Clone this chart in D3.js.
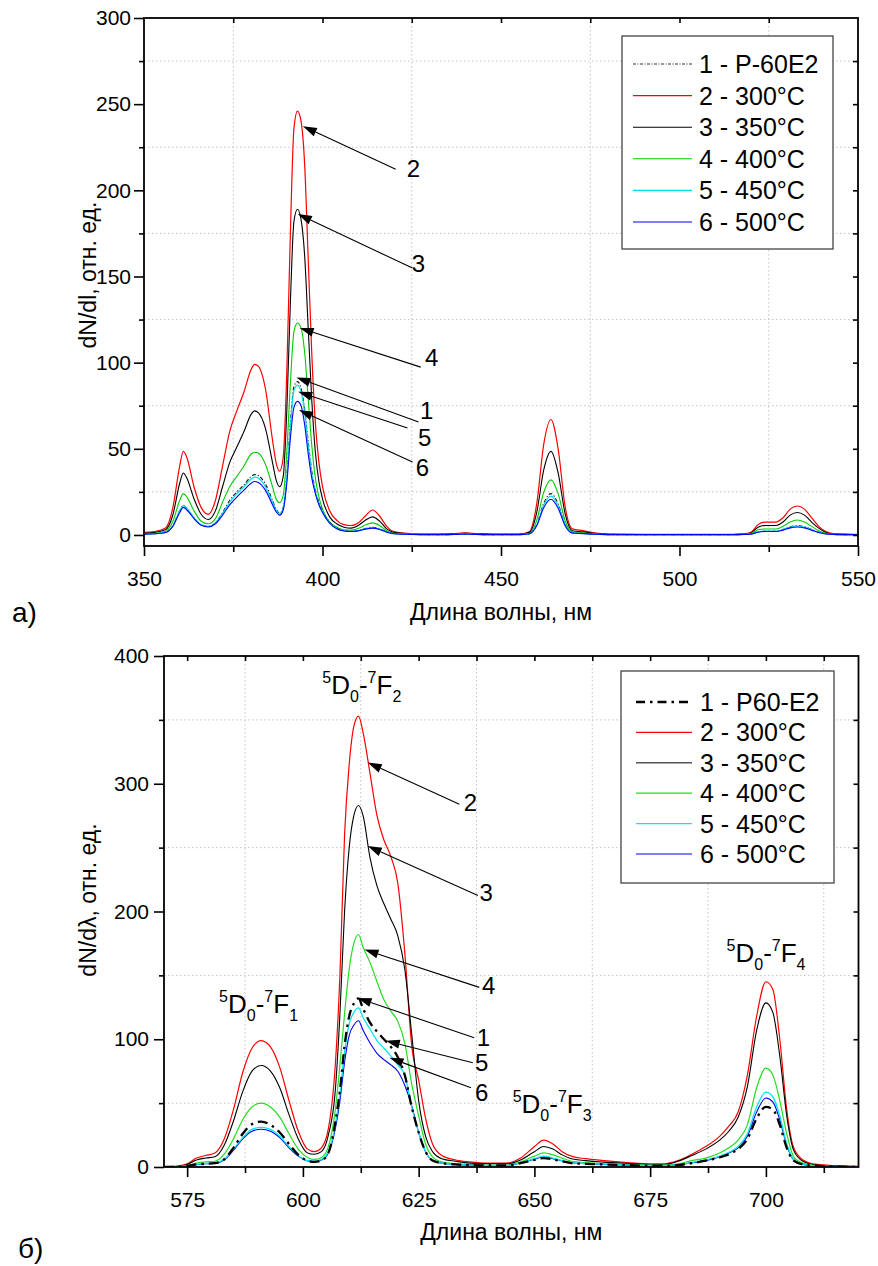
<!DOCTYPE html>
<html><head><meta charset="utf-8">
<script src="https://cdn.jsdelivr.net/npm/d3@7"></script>
<style>body{margin:0;background:#fff;} text{font-family:"Liberation Sans",Arial,sans-serif;}</style>
</head><body>
<svg id="c" width="878" height="1266"></svg>
<script>
// ---------- DATA: panel a) ----------
const wlA = [350,353,356,358,360,361,362,364,366,368,370,372,374,376,378,380,381,382,384,386,387,388,389,390,391,392,393,394,395,396,397,398,399,400,402,404,406,408,410,412,414,416,418,420,425,430,435,438,440,442,445,450,455,458,460,462,464,466,468,470,473,476,480,490,500,510,515,518,520,522,524,527,529,531,533,535,537,539,541,543,546,550];
const a1_P60E2 = [0.5,0.8,1.5,5,14,17,15.5,10,6,5,7,13,20,25,29,34,35,34.5,29.5,20,15,12.6,16,34,65,86,89,85,73,54,37,26,19,14,7.5,4,2.5,2.2,2.6,3.8,4.5,3.6,1.8,0.8,0.3,0.2,0.2,0.4,0.5,0.4,0.2,0.2,0.2,0.8,6,18.5,24,18,6,1.3,0.9,0.5,0.2,0.2,0.2,0.2,0.2,0.3,0.6,1.8,2.2,2.2,3.2,4.8,5.4,4.8,3.2,1.6,0.7,0.3,0.2,0.2];
const a2_300 = [1.5,2,4,15,40,48.5,45,28,16,12,20,40,60,72,83,96,99,98,85,55,42,37,45,95,175,236,246,240,215,160,105,65,42,28,14,8.5,6,5.5,7,11,14.5,11,5,2,0.8,0.5,0.6,1,1.3,1,0.6,0.5,0.5,2,18,53,67,50,16,3.5,2.5,1.2,0.5,0.4,0.4,0.4,0.4,0.6,1.5,6,7.5,7.5,10,15,16.8,15,10,5,2,0.8,0.5,0.4];
const a3_350 = [1,1.5,3,11,30,36,33,21,12,9,14,28,42,51,60,70,72,71,62,42,32,28,34,72,135,182,189,183,162,120,78,48,31,21,10.5,6.5,4.5,4,5.5,8.5,10.5,8,3.5,1.5,0.6,0.4,0.4,0.7,1,0.7,0.5,0.4,0.4,1.5,13,38,48.5,36,12,2.5,1.8,0.9,0.4,0.3,0.3,0.3,0.3,0.5,1.2,4.5,5.5,5.5,7.5,11.5,13,11.5,7.5,4,1.5,0.6,0.4,0.3];
const a4_400 = [0.8,1,2,7.5,20,24,22,14,8,6.5,9.5,19,28,34,40,47,48,47.5,41,28,21,18.7,23,48,88,118,123,120,106,79,52,33,22,15,7.5,4.5,3,2.8,3.8,5.8,7,5.5,2.5,1,0.5,0.3,0.3,0.5,0.7,0.5,0.3,0.3,0.3,1,8.5,25,32,24,8,1.8,1.2,0.6,0.3,0.2,0.2,0.2,0.2,0.3,0.8,3,3.5,3.5,5,7.5,8.7,7.5,5,2.5,1,0.4,0.2,0.2];
const a5_450 = [0.5,0.8,1.5,5,14,17,15.5,10,6,5,7,12.5,19,24,28,32.5,33.6,33,28,19,14.5,12,15.5,33,63,84,87,83,71,52,35,25,18,13.5,7,3.8,2.4,2.1,2.5,3.6,4.2,3.4,1.7,0.8,0.3,0.2,0.2,0.4,0.5,0.4,0.2,0.2,0.2,0.8,5.8,17.5,22.5,17,5.7,1.2,0.9,0.5,0.2,0.2,0.2,0.2,0.2,0.3,0.6,1.8,2.2,2.2,3.1,4.6,5.2,4.6,3.1,1.5,0.7,0.3,0.2,0.2];
const a6_500 = [0.5,0.7,1.4,4.8,13,16,14.5,9.5,5.6,4.6,6.5,11.5,17.5,22,26,30,31,30.5,26,17.5,13.5,11.5,14.5,30,56,74,77.5,75,64,47,33,24,17.5,13,6.8,3.6,2.3,2,2.4,3.4,4,3.2,1.6,0.7,0.3,0.2,0.2,0.35,0.45,0.35,0.2,0.2,0.2,0.7,5.3,16,20.7,15.5,5.2,1.1,0.8,0.4,0.2,0.2,0.2,0.2,0.2,0.3,0.5,1.6,2,2,2.8,4.1,4.6,4.1,2.8,1.4,0.6,0.3,0.2,0.2];
const namesA = ["1 - P-60E2","2 - 300°C","3 - 350°C","4 - 400°C","5 - 450°C","6 - 500°C"];
const xTicksA = [350,400,450,500,550];
const yTicksA = [0,50,100,150,200,250,300];
// arrow annotations a): label, tip [nm, value], tail [nm, value], label centre [nm, value]
const arrowsA = [
  ["2",[394.5,237.2],[420.5,212.3],[425.5,212.9]],
  ["3",[393.1,186.2],[425.2,154.9],[426.9,157.8]],
  ["4",[393.6,120.1],[427.5,97.4],[430.6,103.2]],
  ["1",[392.7,91.4],[426.9,65.5],[429.2,72.5]],
  ["5",[393.2,83.1],[423.8,62.1],[428.6,56.8]],
  ["6",[393.4,72.5],[425.2,42.3],[428.0,39.4]]
];

// ---------- DATA: panel б) ----------
const wlB = [570,573,575,577,579,581,583,585,587,589,591,593,595,597,599,601,602.5,604,605.5,607,608,609,610,611,612,613,614.5,616,617.5,619,620.5,622,623.5,625,626.5,628,630,633,636,640,644,647,650,652,654,656,658,661,665,670,675,678,681,684,687,690,692,694,696,698,700,701.5,703,704.5,706,708,711,715,720];
const b1_P60E2 = [0,0.2,0.8,2,2.5,3,6,15,26,33.5, 35.5,33,27,18,9.5, 5,4,5,11,35, 60,95,118,128,132, 124,113,106,100,94, 86,72,47,27,12, 5,3,2,1.5,1.2, 1.2,3,5.5,7,6, 4.5,3,2.5,2,1.5, 1,1,1.5,3,5, 7.5,10,14,22,38, 47,45,33,15,5, 2,0.8,0.3,0.1];
const b2_300 = [0.3,0.8,2.5,7,9,11,22,45,74,93, 99,94,78,52,28, 14,12,15,30,80, 150,260,315,345,353, 340,308,275,256,243, 222,168,95,68,38, 18,9,5.5,4,3, 3,7,16,21,18, 12,8.5,6.5,5,3.5, 2.5,2.5,5,10,16, 24,32,43,72,118, 145,139,100,45,15, 5.5,2,1,0.5];
const b3_350 = [0.2,0.6,2,5.5,7,8,17,36,59,75, 79.5,75,62,41,22, 11,10,12,25,60, 120,200,250,275,283, 275,242,220,206,194, 181,155,104,52,24, 12,6.5,4.5,3,2.5, 2.5,5.5,12,16,14, 9.5,6.5,5,3.8,2.8, 2,2,4.5,9,14, 21,28,39,63,107, 128.5,121,87,40,13, 4.5,1.5,0.8,0.4];
const b4_400 = [0.1,0.4,1.2,3,4,4.5,10,22,37,47, 50,47,39,26,14, 7.5,6,7.5,16,45, 80,120,155,175,182, 172,160,145,131,122, 114,97,65,40,18, 8,4,2.5,2,1.5, 1.5,4,8.5,11,9.5, 7,4.5,3.5,2.5,2, 1.5,1.5,2.5,5,7, 11,15,21,33,62, 77.4,72,52,26,8, 3,1,0.5,0.2];
const b5_450 = [0,0.2,0.8,2,2.8,3.2,6,14,23,29.5, 31,29.5,24,16,9, 5,4.5,6,12,33, 57,90,112,121,124.5, 117,108,99,93,87, 80,72,47,27,12, 5,3,2,1.5,1.2, 1.2,3.5,6.5,8.5,7, 5,3.5,2.8,2.2,1.6, 1.2,1.2,2,3.5,5.5, 8.5,11.5,16,26,47, 58.6,55,40,18,6, 2,0.8,0.3,0.1];
const b6_500 = [0,0.2,0.7,1.8,2.5,3,5.5,13,22,28, 29.5,28,23,15,8.5, 4.8,4.3,5.5,11,30, 52,82,103,111,114.5, 107,97,89,84,80, 75,64,48,27,12, 5,3,2,1.5,1.2, 1.2,3.2,6,8,6.5, 4.8,3.3,2.6,2,1.5, 1.1,1.1,1.8,3.2,5, 8,11,15,24,43, 54,51,37,17,5.5, 2,0.7,0.3,0.1];
const namesB = ["1 - P60-E2","2 - 300°C","3 - 350°C","4 - 400°C","5 - 450°C","6 - 500°C"];
const xTicksB = [575,600,625,650,675,700];
const yTicksB = [0,100,200,300,400];
const arrowsB = [
  ["2",[614.0,316.6],[633.8,283.9],[636.2,285.5]],
  ["3",[614.0,251.2],[637.8,212.5],[639.6,214.9]],
  ["4",[613.3,170.2],[638.1,140.6],[640.1,142.0]],
  ["1",[611.8,132.3],[637.0,101.2],[639.0,101.2]],
  ["5",[617.9,98.8],[636.7,81.6],[638.6,81.6]],
  ["6",[618.7,85.5],[636.3,62.0],[638.6,58.8]]
];
// transition labels: [J of 7F_J, left nm, baseline value]
const transB = [["2",604.2,370],["1",581.9,120.8],["3",645.3,42.4],["4",691.5,160.8]];

// ---------- DRAWING ----------
const svg = d3.select("#c");
svg.append("rect").attr("width",878).attr("height",1266).attr("fill","#fff");
const FONT = '"Liberation Sans",Arial,sans-serif';

function panel(o){
  const x = d3.scaleLinear().domain(o.xDomain).range([o.left,o.right]);
  const y = d3.scaleLinear().domain(o.yDomain).range([o.bottom,o.top]);
  const g = svg.append("g");
  const grid = {stroke:"#c4c4c4","stroke-width":1,"stroke-dasharray":"1.5,2.5"};
  g.selectAll(null).data(o.gridX).join("line")
    .attr("x1",d=>x(d)).attr("x2",d=>x(d)).attr("y1",o.top).attr("y2",o.bottom).call(s=>{for(const k in grid) s.attr(k,grid[k]);});
  g.selectAll(null).data(o.gridY).join("line")
    .attr("y1",d=>y(d)).attr("y2",d=>y(d)).attr("x1",o.left).attr("x2",o.right).call(s=>{for(const k in grid) s.attr(k,grid[k]);});

  const cid = "clip"+o.id;
  svg.append("clipPath").attr("id",cid).append("rect")
    .attr("x",o.left).attr("y",o.top).attr("width",o.right-o.left).attr("height",o.bottom-o.top);
  const lg = g.append("g").attr("clip-path",`url(#${cid})`);
  const line = d3.line().x((d,i)=>x(o.wl[i])).y(d=>y(d)).curve(d3.curveMonotoneX);
  o.order.forEach(k=>{
    const s = o.series[k];
    lg.append("path").attr("d",line(s.values)).attr("fill","none")
      .attr("stroke",s.color).attr("stroke-width",s.width)
      .attr("stroke-dasharray",s.dash||null).attr("stroke-linejoin","round");
  });

  // axes
  const styleAxis = sel=>{
    sel.select(".domain").remove();
    sel.selectAll(".tick line").attr("stroke","#000").attr("stroke-width",1.6);
    sel.selectAll(".tick text").attr("font-family",FONT).attr("font-size",o.tickFont).attr("fill","#000");
  };
  g.append("g").attr("transform",`translate(0,${o.bottom})`)
    .call(d3.axisBottom(x).tickValues(o.xTicks).tickSize(10).tickPadding(o.xPad).tickFormat(d3.format("d"))).call(styleAxis);
  g.append("g").attr("transform",`translate(0,${o.bottom})`)
    .call(d3.axisBottom(x).tickValues(o.xMinor).tickSize(6).tickFormat("")).call(styleAxis);
  g.append("g").attr("transform",`translate(${o.left},0)`)
    .call(d3.axisLeft(y).tickValues(o.yTicks).tickSize(10).tickPadding(o.yPad).tickFormat(d3.format("d"))).call(styleAxis);
  g.append("g").attr("transform",`translate(${o.left},0)`)
    .call(d3.axisLeft(y).tickValues(o.yMinor).tickSize(5).tickFormat("")).call(styleAxis);
  g.append("g").attr("transform",`translate(0,${o.top})`)
    .call(d3.axisTop(x).tickValues(o.topTicks).tickSize(-5).tickFormat("")).call(styleAxis);
  g.append("g").attr("transform",`translate(${o.right},0)`)
    .call(d3.axisRight(y).tickValues(o.rightTicks).tickSize(-5).tickFormat("")).call(styleAxis);
  g.append("rect").attr("x",o.left).attr("y",o.top).attr("width",o.right-o.left).attr("height",o.bottom-o.top)
    .attr("fill","none").attr("stroke","#000").attr("stroke-width",1.8);

  // titles
  g.append("text").attr("x",(o.left+o.right)/2).attr("y",o.xTitleY).attr("text-anchor","middle")
    .attr("font-size",o.titleFont).attr("font-family",FONT).text("Длина волны, нм");
  g.append("text").attr("transform",`translate(${o.yTitleX},${o.yTitleC}) rotate(-90)`).attr("text-anchor","middle")
    .attr("font-size",o.titleFont).attr("font-family",FONT).text(o.yTitle);
  g.append("text").attr("x",o.tagX).attr("y",o.tagY).attr("font-size",28)
    .attr("font-family",'"Liberation Serif","Times New Roman",serif').text(o.tag);

  // arrows
  o.arrows.forEach(a=>{
    const tx=x(a[1][0]), ty=y(a[1][1]), sx=x(a[2][0]), sy=y(a[2][1]);
    const dx=sx-tx, dy=sy-ty, L=Math.hypot(dx,dy), ux=dx/L, uy=dy/L;
    const hl=14, hw=4.5;
    const bx=tx+ux*hl, by=ty+uy*hl;
    g.append("line").attr("x1",sx).attr("y1",sy).attr("x2",bx).attr("y2",by).attr("stroke","#000").attr("stroke-width",1.1);
    g.append("path").attr("d",`M${tx},${ty}L${bx-uy*hw},${by+ux*hw}L${bx+uy*hw},${by-ux*hw}Z`).attr("fill","#000");
    g.append("text").attr("x",x(a[3][0])).attr("y",y(a[3][1])).attr("dy","0.36em").attr("text-anchor","middle")
      .attr("font-size",24).attr("font-family",FONT).text(a[0]);
  });

  // legend
  const L = o.legend;
  g.append("rect").attr("x",L.x).attr("y",L.y).attr("width",L.w).attr("height",L.h)
    .attr("fill","#fff").attr("stroke","#444").attr("stroke-width",1.3);
  o.names.forEach((nm,i)=>{
    const s=o.series[i], cy=L.y0+i*L.dy;
    g.append("line").attr("x1",L.lx1).attr("x2",L.lx2).attr("y1",cy).attr("y2",cy)
      .attr("stroke",s.lcolor||s.color).attr("stroke-width",s.lwidth||s.width).attr("stroke-dasharray",s.ldash||s.dash||null);
    g.append("text").attr("x",L.tx).attr("y",cy).attr("dy","0.36em").attr("font-size",L.font)
      .attr("font-family",FONT).text(nm);
  });
  return {x,y,g};
}

const A = panel({
  id:"A", left:144, right:858, top:18, bottom:546,
  xDomain:[350,550], yDomain:[-6.4,300], wl:wlA,
  series:[
    {values:a1_P60E2,color:"#111",width:1.1,dash:"4,2,1.2,2",lcolor:"#333",ldash:"3,1.5,1,1.5"},
    {values:a2_300,color:"#ff0000",width:1.2},
    {values:a3_350,color:"#000",width:1.1},
    {values:a4_400,color:"#00cc00",width:1.1},
    {values:a5_450,color:"#00e0e8",width:1.2},
    {values:a6_500,color:"#0000ff",width:1.1}
  ],
  order:[1,2,3,0,4,5],
  names:namesA,
  xTicks:xTicksA, xMinor:[375,425,475,525], yTicks:yTicksA, yMinor:[25,75,125,175,225,275],
  topTicks:[375,400,425,450,475,500,525], rightTicks:[0,25,50,75,100,125,150,175,200,225,250,275],
  gridX:[375,425,475,525], gridY:[25,75,125,175,225,275],
  tickFont:21, titleFont:23, xPad:15, yPad:3,
  xTitleY:620, yTitle:"dN/dl, отн. ед.", yTitleX:96, yTitleC:275,
  tag:"а)", tagX:12, tagY:622,
  arrows:arrowsA,
  legend:{x:622,y:36,w:211,h:213,y0:64,dy:31.6,lx1:633,lx2:692,tx:699,font:25}
});

const B = panel({
  id:"B", left:164, right:858.5, top:656, bottom:1167,
  xDomain:[570,720], yDomain:[0,400], wl:wlB,
  series:[
    {values:b1_P60E2,color:"#000",width:2.3,dash:"10,5,2.5,5",ldash:"9,5,2.5,5"},
    {values:b2_300,color:"#ff0000",width:1.2},
    {values:b3_350,color:"#000",width:1.1,lcolor:"#555",lwidth:1.6},
    {values:b4_400,color:"#22dd22",width:1.2},
    {values:b5_450,color:"#00e8f0",width:1.3},
    {values:b6_500,color:"#0000ee",width:1.1}
  ],
  order:[1,2,3,5,4,0],
  names:namesB,
  xTicks:xTicksB, xMinor:[587.5,612.5,637.5,662.5,687.5,712.5], yTicks:yTicksB, yMinor:[50,150,250,350],
  topTicks:[575,587.5,600,612.5,625,637.5,650,662.5,675,687.5,700,712.5], rightTicks:[50,100,150,200,250,300,350],
  gridX:[587.5,612.5,637.5,662.5,687.5,712.5], gridY:[50,150,250,350],
  tickFont:21, titleFont:23, xPad:15, yPad:5,
  xTitleY:1240, yTitle:"dN/dλ, отн. ед.", yTitleX:96, yTitleC:900,
  tag:"б)", tagX:18, tagY:1258,
  arrows:arrowsB,
  legend:{x:621,y:671,w:213,h:212,y0:702,dy:30.4,lx1:636,lx2:692,tx:700,font:25}
});

// transition labels
transB.forEach(t=>{
  const tx = B.g.append("text").attr("x",B.x(t[1])).attr("y",B.y(t[2])).attr("font-family",FONT).attr("font-size",26);
  tx.append("tspan").attr("font-size",16).attr("dy",-11).text("5");
  tx.append("tspan").attr("dy",11).text("D");
  tx.append("tspan").attr("font-size",16).attr("dy",8).text("0");
  tx.append("tspan").attr("dy",-8).text("-");
  tx.append("tspan").attr("font-size",16).attr("dy",-11).text("7");
  tx.append("tspan").attr("dy",11).text("F");
  tx.append("tspan").attr("font-size",16).attr("dy",8).text(t[0]);
});
</script>
</body></html>
